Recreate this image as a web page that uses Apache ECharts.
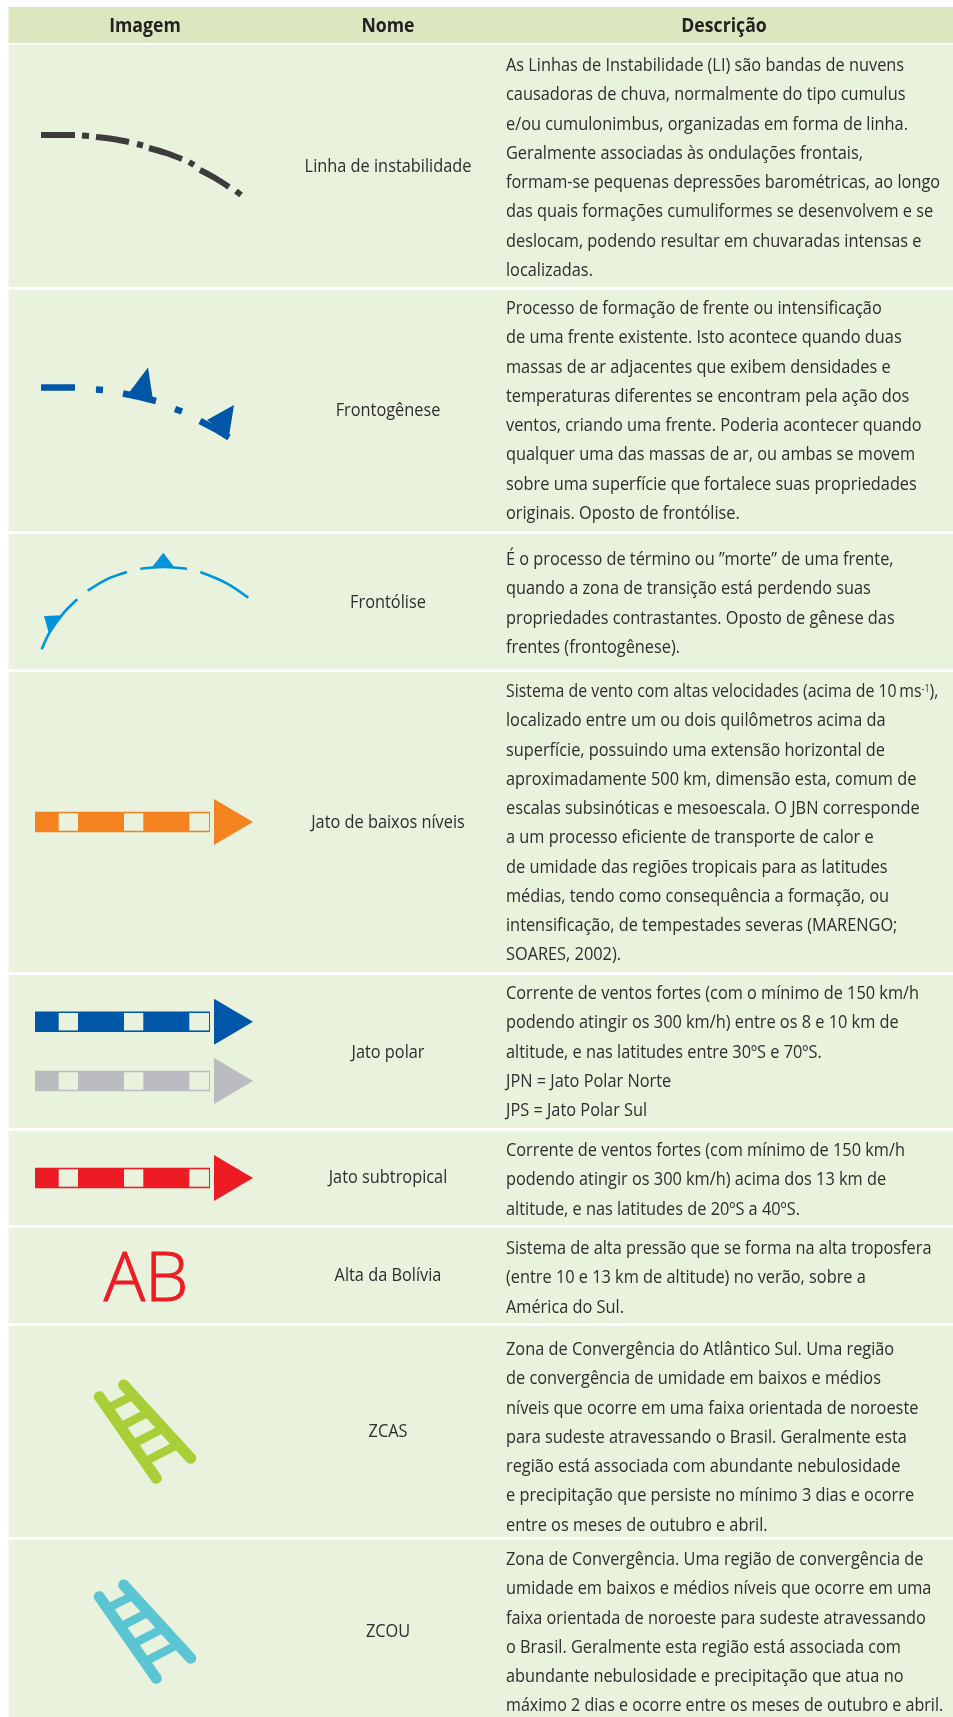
<!DOCTYPE html>
<html>
<head>
<meta charset="utf-8">
<style>
  html, body { margin: 0; padding: 0; background: #fff; }
  #chart { width: 953px; height: 1717px; }
</style>
<script src="https://cdn.jsdelivr.net/npm/echarts@6/dist/echarts.min.js"></script>
</head>
<body>
<div id="chart"></div>
<script>
// table text
const headers = ["Imagem", "Nome", "Descrição"];
const headerX = [145, 388, 724];
const names = ["Linha de instabilidade", "Frontogênese", "Frontólise", "Jato de baixos níveis", "Jato polar", "Jato subtropical", "Alta da Bolívia", "ZCAS", "ZCOU"];
const nameY = [167, 411, 603, 823, 1053, 1178, 1276, 1432, 1632];
const descriptions = [
  ["As Linhas de Instabilidade (LI) são bandas de nuvens", "causadoras de chuva, normalmente do tipo cumulus", "e/ou cumulonimbus, organizadas em forma de linha.", "Geralmente associadas às ondulações frontais,", "formam-se pequenas depressões barométricas, ao longo", "das quais formações cumuliformes se desenvolvem e se", "deslocam, podendo resultar em chuvaradas intensas e", "localizadas."],
  ["Processo de formação de frente ou intensificação", "de uma frente existente. Isto acontece quando duas", "massas de ar adjacentes que exibem densidades e", "temperaturas diferentes se encontram pela ação dos", "ventos, criando uma frente. Poderia acontecer quando", "qualquer uma das massas de ar, ou ambas se movem", "sobre uma superfície que fortalece suas propriedades", "originais. Oposto de frontólise."],
  ["É o processo de término ou ”morte” de uma frente,", "quando a zona de transição está perdendo suas", "propriedades contrastantes. Oposto de gênese das", "frentes (frontogênese)."],
  ["Sistema de vento com altas velocidades (acima de 10\u2009ms{sup|-1}),", "localizado entre um ou dois quilômetros acima da", "superfície, possuindo uma extensão horizontal de", "aproximadamente 500 km, dimensão esta, comum de", "escalas subsinóticas e mesoescala. O JBN corresponde", "a um processo eficiente de transporte de calor e", "de umidade das regiões tropicais para as latitudes", "médias, tendo como consequência a formação, ou", "intensificação, de tempestades severas (MARENGO;", "SOARES, 2002)."],
  ["Corrente de ventos fortes (com o mínimo de 150 km/h", "podendo atingir os 300 km/h) entre os 8 e 10 km de", "altitude, e nas latitudes entre 30ºS e 70ºS.", "JPN = Jato Polar Norte", "JPS = Jato Polar Sul"],
  ["Corrente de ventos fortes (com mínimo de 150 km/h", "podendo atingir os 300 km/h) acima dos 13 km de", "altitude, e nas latitudes de 20ºS a 40ºS."],
  ["Sistema de alta pressão que se forma na alta troposfera", "(entre 10 e 13 km de altitude) no verão, sobre a", "América do Sul."],
  ["Zona de Convergência do Atlântico Sul. Uma região", "de convergência de umidade em baixos e médios", "níveis que ocorre em uma faixa orientada de noroeste", "para sudeste atravessando o Brasil. Geralmente esta", "região está associada com abundante nebulosidade", "e precipitação que persiste no mínimo 3 dias e ocorre", "entre os meses de outubro e abril."],
  ["Zona de Convergência. Uma região de convergência de", "umidade em baixos e médios níveis que ocorre em uma", "faixa orientada de noroeste para sudeste atravessando", "o Brasil. Geralmente esta região está associada com", "abundante nebulosidade e precipitação que atua no", "máximo 2 dias e ocorre entre os meses de outubro e abril."]
];
const firstLineY = [66, 309, 560, 692, 994, 1151, 1249, 1350, 1560];
const lineStep = 29.25;

// row bands, top and bottom
const headerBand = [7, 43];
const rowBands = [[45, 287], [290, 531], [534, 669], [672, 972], [975, 1128], [1131, 1225], [1228, 1323], [1326, 1537], [1540, 1717]];

// frontal symbols
const instabilitySegments = [
  [[41, 135], [75, 135]], [[82, 135.5], [89, 136]], [[96, 137], [113, 139], [129, 142]], [[137, 144], [143, 145.5]],
  [[149, 148], [166, 153], [182, 159]], [[189, 162], [194, 165]], [[200, 170], [215, 178], [229, 187]], [[236, 191], [241, 195]]
];
const genesisSegments = [
  [[41, 387.5], [75, 387.5]], [[96, 389.5], [103, 390]], [[123, 393.5], [140, 397], [156, 401]],
  [[175, 409], [182, 411.5]], [[200, 421], [215, 429], [229, 437.5]]
];
const genesisTriangles = [
  [[128, 394], [148, 367.5], [153, 400]],
  [[207, 420], [234, 405], [229, 436]]
];
const lysisSegments = [
  [[41.7, 649.3], [50, 631.7], [63.3, 613.3], [77.3, 599.3]],
  [[87.7, 590.7], [106.7, 579.3], [127, 572]],
  [[140.3, 568.7], [163.3, 567], [187, 568.7]],
  [[200.3, 572], [226.7, 583.3], [248.3, 597.7]]
];
const lysisTriangles = [
  [[44, 616], [62, 615.3], [49.3, 635]],
  [[152.3, 566.7], [163.3, 552.7], [174.3, 567.3]]
];

// jet arrows
const jetCenters = [822, 1021.7, 1081, 1178];
const jetColors = ["#f58220", "#0057a8", "#bbbcc0", "#ed1c24"];
const jetShaft = [35, 210];
const jetWindows = [[58.7, 78], [124, 143.3], [189.3, 209]];
const jetHead = [214, 253];

// ladders
const ladderOffsets = [0, 200];
const ladderColors = ["#a8cf38", "#5bc5d3"];
const ladderRails = [[[99.3, 1396.7], [156.3, 1478.3]], [[123.7, 1385], [190.7, 1458.3]]];
const ladderRungs = [[[108, 1408], [132, 1396]], [[121, 1426.5], [147, 1413]], [[133, 1444], [162, 1429]], [[146, 1461], [177, 1445]]];

const FONT = "'Open Sans', sans-serif";
const textColor = "#2e2e2e";
// Open Sans is wider than the original face, so squeeze it a bit
const squeeze = 0.907;
// the two longest lines are set tighter in the original
const tightLines = { "3-0": 0.882, "8-5": 0.893 };
const chart = echarts.init(document.getElementById("chart"));

function pts(api, list) {
  return list.map(function (p) { return api.coord(p); });
}

function layer(data, renderItem) {
  return { type: "custom", coordinateSystem: "cartesian2d", data: data, clip: false, silent: true, animation: false, renderItem: renderItem };
}

function lineLayer(segments, color, width, cap) {
  return layer(segments.map(function (s, i) { return [i]; }), function (params, api) {
    return {
      type: "polyline",
      shape: { points: pts(api, segments[params.dataIndex]), smooth: 0.35 },
      style: { stroke: color, lineWidth: width, fill: null, lineCap: cap || "butt" }
    };
  });
}

function triangleLayer(triangles, color) {
  return layer(triangles.map(function (s, i) { return [i]; }), function (params, api) {
    return { type: "polygon", shape: { points: pts(api, triangles[params.dataIndex]) }, style: { fill: color } };
  });
}

function band(api, x0, x1, y0, y1, fill) {
  const a = api.coord([x0, y0]);
  const b = api.coord([x1, y1]);
  return { type: "rect", shape: { x: a[0], y: a[1], width: b[0] - a[0], height: b[1] - a[1] }, style: { fill: fill } };
}

const descLines = [];
descriptions.forEach(function (lines, r) {
  lines.forEach(function (t, i) {
    descLines.push([506, firstLineY[r] + i * lineStep, t, tightLines[r + "-" + i] || squeeze]);
  });
});

const series = [
  layer([headerBand], function (params, api) {
    return band(api, 8.5, 953, headerBand[0], headerBand[1], "#dbe8bf");
  }),
  layer(rowBands, function (params, api) {
    const b = rowBands[params.dataIndex];
    return band(api, 8.5, 953, b[0], b[1], "#e9f2dd");
  }),
  layer(headers.map(function (h, i) { return [headerX[i], 26]; }), function (params, api) {
    const p = api.coord([api.value(0), api.value(1)]);
    return {
      type: "text", x: p[0], y: p[1], scaleX: squeeze,
      style: { text: headers[params.dataIndex], font: "700 19.5px " + FONT, fill: "#222", align: "center", verticalAlign: "middle" }
    };
  }),
  layer(names.map(function (n, i) { return [388, nameY[i]]; }), function (params, api) {
    const p = api.coord([api.value(0), api.value(1)]);
    return {
      type: "text", x: p[0], y: p[1], scaleX: squeeze,
      style: { text: names[params.dataIndex], font: "18px " + FONT, fill: textColor, align: "center", verticalAlign: "middle" }
    };
  }),
  layer(descLines, function (params, api) {
    const d = descLines[params.dataIndex];
    const p = api.coord([d[0], d[1]]);
    return {
      type: "text", x: p[0], y: p[1], scaleX: d[3],
      style: {
        text: d[2], font: "18px " + FONT, fill: textColor, align: "left", verticalAlign: "middle",
        rich: { sup: { font: "10px " + FONT, fill: textColor, padding: [0, 0, 6, 0] } }
      }
    };
  }),
  lineLayer(instabilitySegments, "#3c3c3c", 6),
  lineLayer(genesisSegments, "#0057a8", 6.5),
  triangleLayer(genesisTriangles, "#0057a8"),
  lineLayer(lysisSegments, "#0095da", 2.6),
  triangleLayer(lysisTriangles, "#0095da"),
  // jet shafts, windows and heads
  layer(jetCenters.map(function (c) { return [c]; }), function (params, api) {
    const c = jetCenters[params.dataIndex];
    const color = jetColors[params.dataIndex];
    const parts = [band(api, jetShaft[0], jetShaft[1], c - 10.2, c + 10.2, color)];
    jetWindows.forEach(function (w) {
      parts.push(band(api, w[0], w[1], c - 8.7, c + 8.7, "#e9f2dd"));
    });
    parts.push({
      type: "polygon",
      shape: { points: pts(api, [[jetHead[0], c - 23], [jetHead[1], c], [jetHead[0], c + 23]]) },
      style: { fill: color }
    });
    return { type: "group", children: parts };
  }),
  // Alta da Bolivia mark
  layer([[146, 1281]], function (params, api) {
    const p = api.coord([api.value(0), api.value(1)]);
    return {
      type: "text", x: p[0], y: p[1],
      style: { text: "AB", font: "300 69px 'Open Sans', sans-serif", fill: "#ed1c24", stroke: "#ed1c24", lineWidth: 1, align: "center", verticalAlign: "middle" }
    };
  }),
  layer(ladderOffsets.map(function (o) { return [o]; }), function (params, api) {
    const dy = ladderOffsets[params.dataIndex];
    const color = ladderColors[params.dataIndex];
    function bar(s, w, cap) {
      return {
        type: "polyline",
        shape: { points: pts(api, s.map(function (p) { return [p[0], p[1] + dy]; })) },
        style: { stroke: color, lineWidth: w, fill: null, lineCap: cap }
      };
    }
    const parts = ladderRails.map(function (s) { return bar(s, 11, "round"); });
    ladderRungs.forEach(function (s) { parts.push(bar(s, 8.5, "butt")); });
    return { type: "group", children: parts };
  })
];

chart.setOption({
  animation: false,
  backgroundColor: "#fff",
  grid: { left: 0, right: 0, top: 0, bottom: 0 },
  xAxis: { type: "value", min: 0, max: 953, show: false },
  yAxis: { type: "value", min: 0, max: 1717, inverse: true, show: false },
  series: series
});
</script>
</body>
</html>
